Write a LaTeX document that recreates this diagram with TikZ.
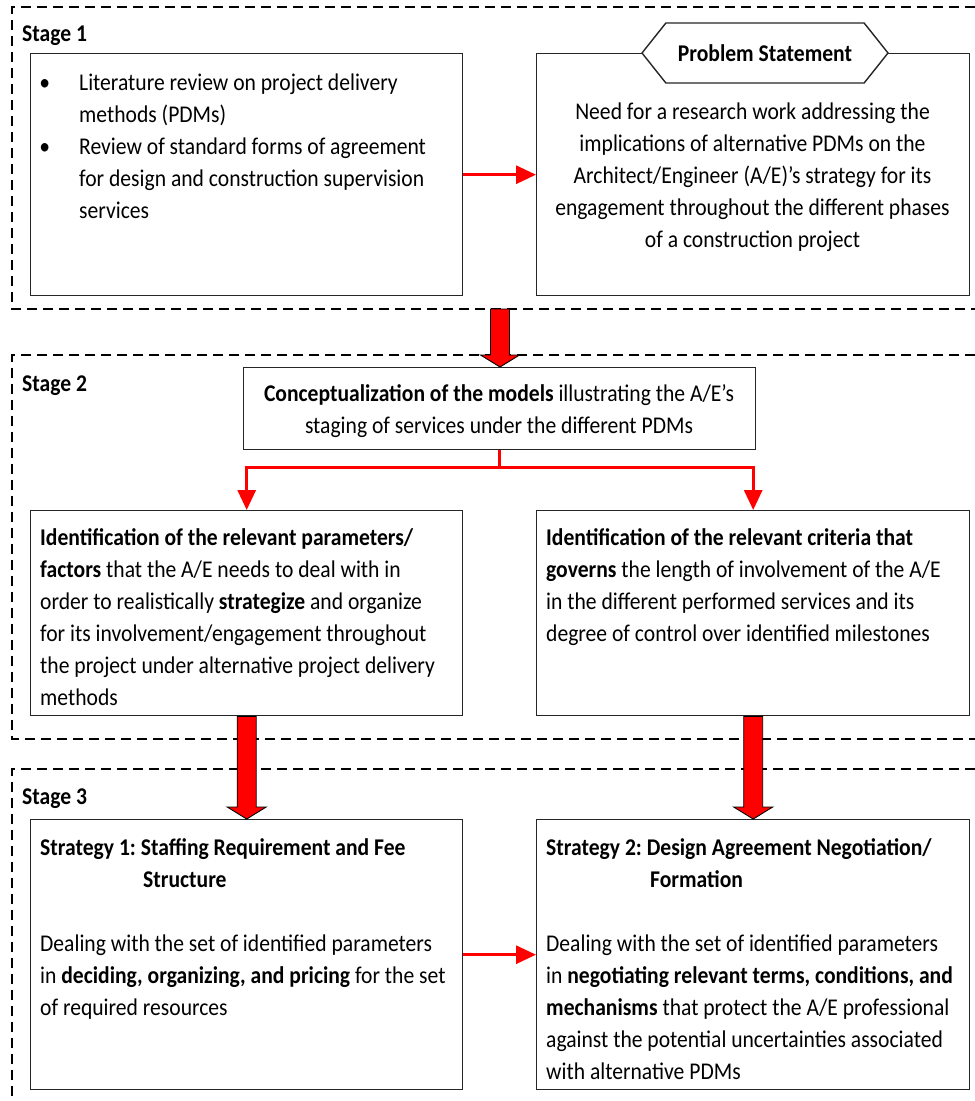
\documentclass[tikz,border=0pt]{standalone}
\usepackage{fontspec}
\setmainfont{Carlito}[FakeStretch=0.9]
\usetikzlibrary{arrows.meta,shapes.symbols,calc}
\frenchspacing

% thick red block arrow from #1 (top of shaft) down to #2 (tip)
\newcommand{\blockarrowpath}[2]{%
  \path[blockarrow] let \p1=(#1), \p2=(#2) in
    (\x1-9.5pt,\y1) -- (\x1+9.5pt,\y1) -- (\x1+9.5pt,\y2+12pt)
    -- (\x1+19.5pt,\y2+12pt) -- (\x1,\y2) -- (\x1-19.5pt,\y2+12pt)
    -- (\x1-9.5pt,\y2+12pt) -- cycle;}
% bullet hanging into the left margin
\newcommand{\hangbullet}{\leavevmode\llap{\textbullet\hspace{29pt}}}

\begin{document}
\begin{tikzpicture}[x=1pt,y=-1pt,
  stageframe/.style={draw=black, line width=2pt, dash pattern=on 10pt off 6pt},
  box/.style={draw=black!85, line width=1.4pt, rectangle, inner sep=0pt, anchor=north west, fill=white},
  txt/.style={anchor=base west, inner sep=0pt, text width=430pt, align=flush left, font=\fontsize{24pt}{32pt}\selectfont},
  ctxt/.style={anchor=base, inner sep=0pt, text width=430pt, align=flush center, font=\fontsize{24pt}{32pt}\selectfont},
  lbl/.style={anchor=base west, inner sep=0pt, font=\fontsize{24pt}{32pt}\selectfont\bfseries},
  flow/.style={draw=red, line width=3pt, -{Triangle[width=18pt,length=20pt]}},
  blockarrow/.style={fill=red, draw=black, line width=0.9pt, line join=miter}
]
\useasboundingbox[fill=white] (0,0) rectangle (975,1101);

% stage frames (open on the right)
\draw[stageframe] (975,7) -| (12,309) -- (975,309);
\draw[stageframe] (975,355) -| (12,739) -- (975,739);
\draw[stageframe] (975,769) -| (12,1101);

\node[lbl] (st1) at (22,41) {Stage 1};
\node[lbl] (st2) at (22,391) {Stage 2};
\node[lbl] (st3) at (22,804) {Stage 3};

% Stage 1
\node[box, minimum width=432pt, minimum height=242pt] (s1l) at (30,53) {};
\node[box, minimum width=433pt, minimum height=242pt] (s1r) at (536,53) {};
\node[signal, signal to=east and west, signal pointer angle=103, draw=black!85,
      line width=1.4pt, fill=white, minimum width=246pt, minimum height=60pt, inner sep=0pt,
      font=\fontsize{24pt}{32pt}\selectfont\bfseries] (ps) at (765,53) {Problem Statement};

\node[txt] (t1l) at (79,90) {%
\hangbullet Literature review on project delivery\\
methods (PDMs)\\
\hangbullet Review of standard forms of agreement\\
for design and construction supervision\\
services};
\node[ctxt] (t1r) at (752.5,119) {%
Need for a research work addressing the\\
implications of alternative PDMs on the\\
Architect/Engineer (A/E)’s strategy for its\\
engagement throughout the different phases\\
of a construction project};

% Stage 2
\node[box, minimum width=512pt, minimum height=82pt] (cm) at (243,367) {};
\node[ctxt, text width=505pt] (tcm) at (499,401) {%
\textbf{Conceptualization of the models} illustrating the A/E’s\\
staging of services under the different PDMs};

\node[box, minimum width=432pt, minimum height=205pt] (s2l) at (30,510) {};
\node[box, minimum width=433pt, minimum height=205pt] (s2r) at (536,510) {};
\node[txt] (t2l) at (40,545) {%
\textbf{Identification of the relevant parameters/}\\
\textbf{factors} that the A/E needs to deal with in\\
order to realistically \textbf{strategize} and organize\\
for its involvement/engagement throughout\\
the project under alternative project delivery\\
methods};
\node[txt] (t2r) at (546,545) {%
\textbf{Identification of the relevant criteria that}\\
\textbf{governs} the length of involvement of the A/E\\
in the different performed services and its\\
degree of control over identified milestones};

% Stage 3
\node[box, minimum width=432pt, minimum height=270pt] (s3l) at (30,819) {};
\node[box, minimum width=433pt, minimum height=270pt] (s3r) at (536,819) {};
\node[txt] (t3l) at (40,855) {%
\textbf{Strategy 1: Staffing Requirement and Fee}\\
\hspace*{103pt}\textbf{Structure}\\[32pt]
Dealing with the set of identified parameters\\
in \textbf{deciding, organizing, and pricing} for the set\\
of required resources};
\node[txt] (t3r) at (546,855) {%
\textbf{Strategy 2: Design Agreement Negotiation/}\\
\hspace*{104pt}\textbf{Formation}\\[32pt]
Dealing with the set of identified parameters\\
in \textbf{negotiating relevant terms, conditions, and}\\
\textbf{mechanisms} that protect the A/E professional\\
against the potential uncertainties associated\\
with alternative PDMs};

% connectors
\draw[flow] (s1l) -- (s1r);
\draw[flow] (s3l) -- (s3r);
\draw[flow] (cm.south) -- ++(0,17) -| (s2l.north);
\draw[flow] (cm.south) -- ++(0,17) -| (s2r.north);

\coordinate (a1) at (500,309);
\blockarrowpath{a1}{cm.north -| a1}
\blockarrowpath{s2l.south}{s3l.north}
\blockarrowpath{s2r.south}{s3r.north}
\end{tikzpicture}
\end{document}
